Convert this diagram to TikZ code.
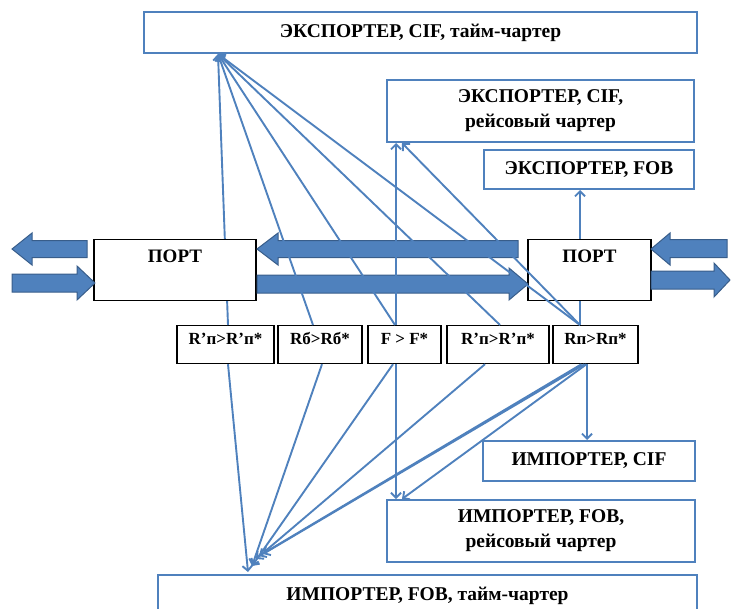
\documentclass[tikz,border=0pt]{standalone}
\usepackage{fontspec}
\setmainfont{Liberation Serif}
\usetikzlibrary{arrows.meta,calc}
\definecolor{lblue}{HTML}{4F81BD}
\definecolor{dblue}{HTML}{385D8A}
\begin{document}
\begin{tikzpicture}[x=1pt,y=-1pt,
  bluebox/.style={draw=lblue,line width=2pt,fill=white,inner sep=0pt,
    font=\fontsize{19.5}{25}\selectfont\bfseries,align=center},
  blackbox/.style={draw=black,line width=1.2pt,fill=white,inner xsep=0pt},
  portbox/.style={blackbox,minimum width=#1,anchor=north,text height=13pt,text depth=28pt,
    inner ysep=10pt,font=\fontsize{19}{22}\selectfont\bfseries},
  smallbox/.style={blackbox,minimum width=#1,anchor=north,text height=12pt,text depth=12pt,
    inner ysep=7pt,font=\fontsize{17}{20}\selectfont\bfseries},
  link/.style={draw=lblue,line width=1.9pt,-{Straight Barb[length=5pt,width=10pt]}},
  bigarrow/.style={fill=lblue,draw=dblue,line width=1pt}]
\useasboundingbox (0,0) rectangle (731,608);

% exporter / importer boxes
\node[bluebox,minimum width=553,minimum height=41] (top) at (420.5,32.5) {ЭКСПОРТЕР, CIF, тайм-чартер};
\node[bluebox,minimum width=307,minimum height=62] (ecr) at (540.5,111) {ЭКСПОРТЕР, CIF,\\рейсовый чартер};
\node[bluebox,minimum width=210,minimum height=39] (efob) at (589,169.5) {ЭКСПОРТЕР, FOB};
\node[bluebox,minimum width=212,minimum height=40] (icif) at (589,461) {ИМПОРТЕР, CIF};
\node[bluebox,minimum width=308,minimum height=62] (ifr) at (541,531) {ИМПОРТЕР, FOB,\\рейсовый чартер};
\node[bluebox,minimum width=539,anchor=north,text height=13pt,text depth=4pt,inner ysep=12pt] (ift) at (427.5,574) {ИМПОРТЕР, FOB, тайм-чартер};

% small boxes
\node[smallbox=97] (s1) at (225.5,325) {R’п>R’п*};
\node[smallbox=84] (s2) at (320,325) {Rб>Rб*};
\node[smallbox=73] (s3) at (404.5,325) {F > F*};
\node[smallbox=102] (s4) at (498,325) {R’п>R’п*};
\node[smallbox=85] (s5) at (595.5,325) {Rп>Rп*};

\coordinate (ta) at (218,54);
\coordinate (ba) at (248,572);
\coordinate (bb) at (252,566);
\coordinate (bc) at (256,559);
\coordinate (bd) at (259,556);
\coordinate (be) at (263,554);

% connectors hidden behind the ports
\draw[link] ([xshift=2.5]s1.north) -- (ta);
\draw[link] ([xshift=-15.5]s5.north) -- ([xshift=-15.5]s5.north |- efob.south);

% ports
\node[portbox=162] (lport) at (175,239) {ПОРТ};
\node[portbox=123] (rport) at (589.5,239) {ПОРТ};

% big arrows
\draw[bigarrow] (12,249)--(32,233)--(32,240.5)--(87,240.5)--(87,257.5)--(32,257.5)--(32,265)--cycle;
\draw[bigarrow] (95,283)--(77,266)--(77,274)--(12,274)--(12,292)--(77,292)--(77,300)--cycle;
\draw[bigarrow] (257,249)--(278,233)--(278,240.5)--(518,240.5)--(518,257.5)--(278,257.5)--(278,265)--cycle;
\draw[bigarrow] (528,284)--(509,268)--(509,275)--(257,275)--(257,293)--(509,293)--(509,300)--cycle;
\draw[bigarrow] (651,249)--(670,233)--(670,239.5)--(727,239.5)--(727,257.5)--(670,257.5)--(670,265)--cycle;
\draw[bigarrow] (730,280)--(714,263)--(714,271)--(651,271)--(651,289)--(714,289)--(714,297)--cycle;

% upward connectors
\draw[link] ([xshift=-7]s2.north) -- (ta);
\draw[link] ([xshift=-9.5]s3.north) -- (ta);
\draw[link] ([xshift=2]s4.north) -- (ta);
\draw[link] ([xshift=-15.5]s5.north) -- (ta);
\draw[link] ([xshift=-8.5]s3.north) -- ([xshift=-8.5]s3.north |- ecr.south);
\draw[link] ([xshift=-15.5]s5.north) -- ($(ecr.south west)+(16,0)$);

% downward connectors
\draw[link] ([xshift=2.5]s1.south) -- (ba);
\draw[link] ([xshift=2]s2.south) -- (bb);
\draw[link] ([xshift=-11.5]s3.south) -- (bb);
\draw[link] ([xshift=-8.5]s3.south) -- ([xshift=-8.5]s3.south |- ifr.north);
\draw[link] ([xshift=-13]s4.south) -- (bc);
\draw[link] ([xshift=-14]s5.south) -- (bd);
\draw[link] ([xshift=-11]s5.south) -- (be);
\draw[link] ([xshift=-9]s5.south) -- ($(ifr.north west)+(16,0)$);
\draw[link] ([xshift=-8.5]s5.south) -- ([xshift=-8.5]s5.south |- icif.north);
\end{tikzpicture}
\end{document}
